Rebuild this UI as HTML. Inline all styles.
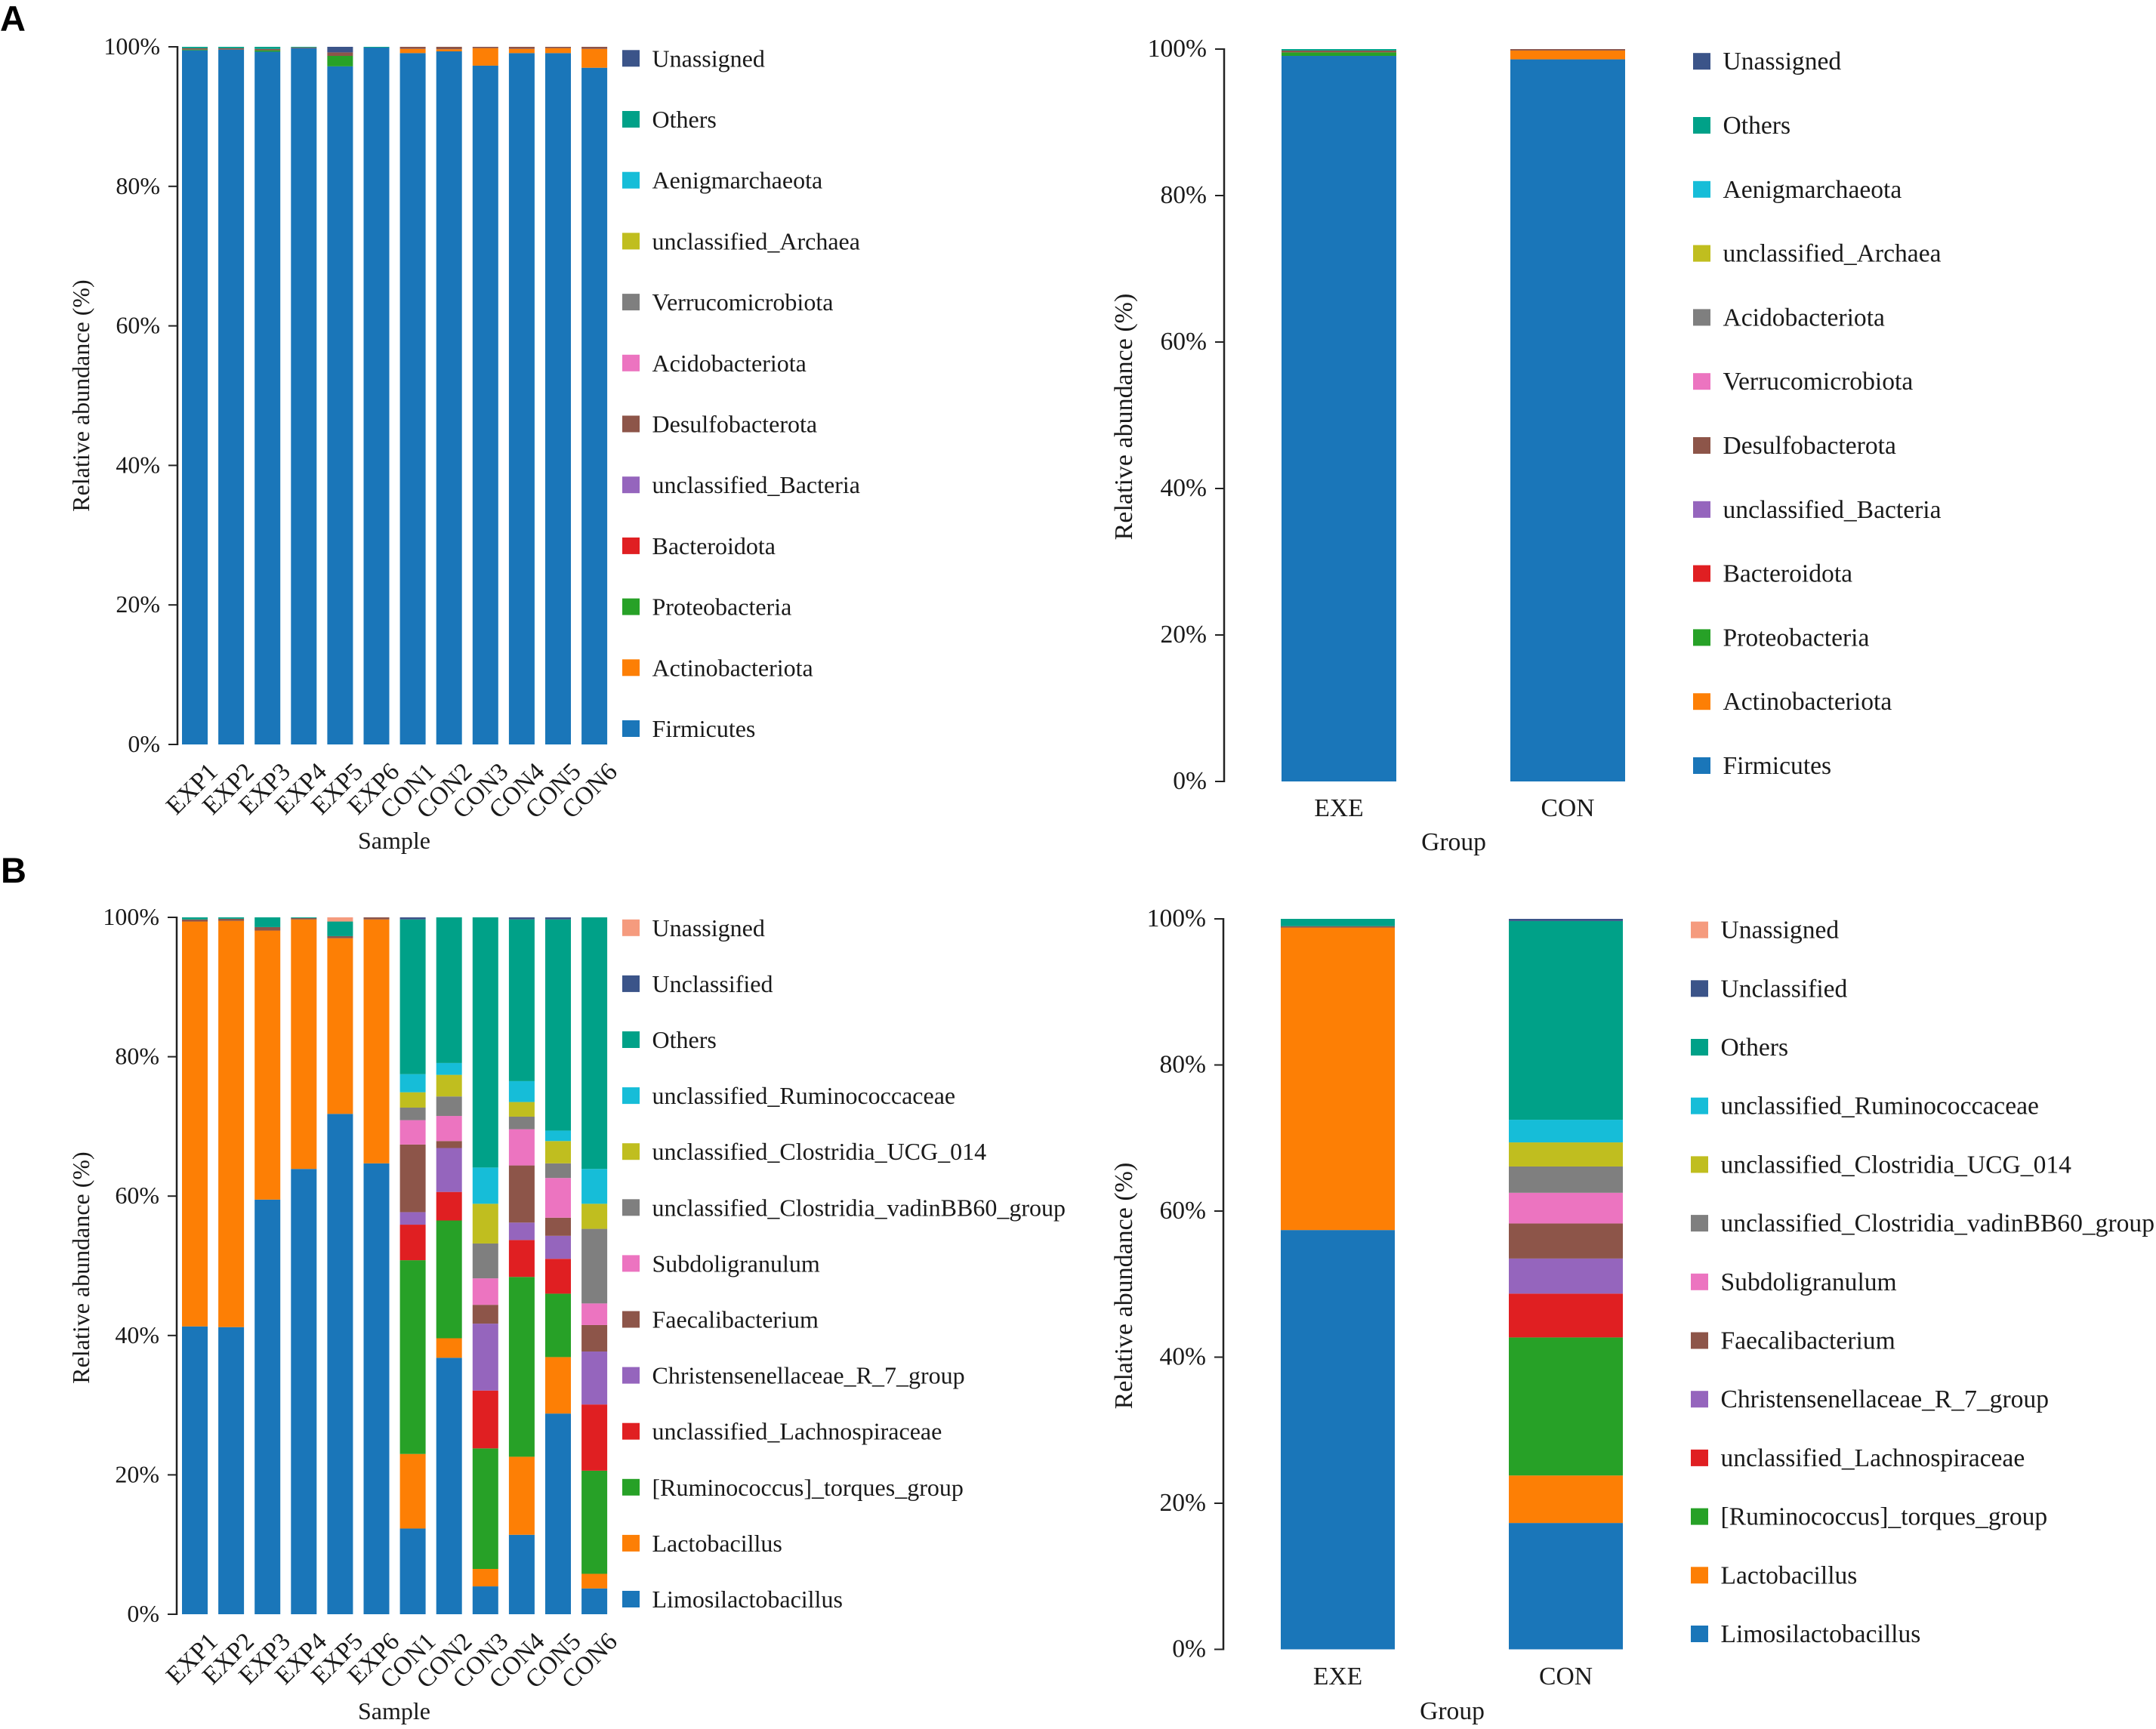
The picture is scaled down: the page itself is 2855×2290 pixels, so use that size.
<!DOCTYPE html>
<html lang="en">
<head>
<meta charset="utf-8">
<title>Relative abundance stacked bar charts</title>
<style>
html,body{margin:0;padding:0;background:#fff;}
svg{display:block;}
text{font-family:"Liberation Serif","Times New Roman",serif;fill:#1a1a1a;}
.panel-letter{font-family:"Liberation Sans",Arial,sans-serif;font-weight:700;font-size:47px;fill:#000;}
</style>
</head>
<body>
<svg id="figure" width="2855" height="2290" viewBox="0 0 2855 2290" xmlns="http://www.w3.org/2000/svg">
  <rect x="0" y="0" width="2855" height="2290" fill="#ffffff"/>
  <text class="panel-letter" x="0" y="41">A</text>
  <text class="panel-letter" x="1" y="1169">B</text>
  <g id="panel-a-sample"></g>
  <g id="panel-a-group"></g>
  <g id="panel-b-sample"></g>
  <g id="panel-b-group"></g>
</svg>
<script>
const sampleCategories = ['EXP1','EXP2','EXP3','EXP4','EXP5','EXP6','CON1','CON2','CON3','CON4','CON5','CON6'];
const groupCategories = ['EXE','CON'];
const yTickValues = [0,20,40,60,80,100];
const yTickLabels = ['0%','20%','40%','60%','80%','100%'];

const phylumSampleNames = ['Firmicutes','Actinobacteriota','Proteobacteria','Bacteroidota','unclassified_Bacteria','Desulfobacterota','Acidobacteriota','Verrucomicrobiota','unclassified_Archaea','Aenigmarchaeota','Others','Unassigned'];
const phylumGroupNames = ['Firmicutes','Actinobacteriota','Proteobacteria','Bacteroidota','unclassified_Bacteria','Desulfobacterota','Verrucomicrobiota','Acidobacteriota','unclassified_Archaea','Aenigmarchaeota','Others','Unassigned'];
const genusNames = ['Limosilactobacillus','Lactobacillus','[Ruminococcus]_torques_group','unclassified_Lachnospiraceae','Christensenellaceae_R_7_group','Faecalibacterium','Subdoligranulum','unclassified_Clostridia_vadinBB60_group','unclassified_Clostridia_UCG_014','unclassified_Ruminococcaceae','Others','Unclassified','Unassigned'];

const aSampleFirmicutes = [99.5,99.6,99.3,99.8,97.2,99.9,99.1,99.35,97.3,99.1,99.1,97.0];
const aSampleActinobacteriota = [0,0,0,0,0,0,0.6,0.3,2.5,0.6,0.7,2.7];
const aSampleProteobacteria = [0.1,0,0.2,0,1.5,0,0,0,0,0,0,0];
const aSampleBacteroidota = [0,0,0,0,0,0,0,0,0,0,0,0];
const aSampleUnclassifiedBacteria = [0,0,0,0,0,0,0,0,0,0,0,0];
const aSampleDesulfobacterota = [0.2,0.2,0.2,0.1,0.5,0,0.3,0.35,0.2,0.3,0.2,0.3];
const aSampleAcidobacteriota = [0,0,0,0,0,0,0,0,0,0,0,0];
const aSampleVerrucomicrobiota = [0,0,0,0,0,0,0,0,0,0,0,0];
const aSampleUnclassifiedArchaea = [0,0,0,0,0,0,0,0,0,0,0,0];
const aSampleAenigmarchaeota = [0,0,0,0,0,0,0,0,0,0,0,0];
const aSampleOthers = [0.2,0.2,0.3,0.1,0,0.1,0,0,0,0,0,0];
const aSampleUnassigned = [0,0,0,0,0.8,0,0,0,0,0,0,0];

const aGroupFirmicutes = [99.07,98.6];
const aGroupActinobacteriota = [0,1.2];
const aGroupProteobacteria = [0.48,0];
const aGroupBacteroidota = [0,0];
const aGroupUnclassifiedBacteria = [0,0];
const aGroupDesulfobacterota = [0.25,0.2];
const aGroupVerrucomicrobiota = [0,0];
const aGroupAcidobacteriota = [0,0];
const aGroupUnclassifiedArchaea = [0,0];
const aGroupAenigmarchaeota = [0,0];
const aGroupOthers = [0.2,0];
const aGroupUnassigned = [0,0];

const bSampleLimosilactobacillus = [41.3,41.2,59.5,63.9,71.8,64.7,12.3,36.8,4.0,11.4,28.8,3.7];
const bSampleLactobacillus = [58.1,58.3,38.6,35.8,25.2,35.0,10.7,2.8,2.5,11.2,8.1,2.1];
const bSampleRuminococcus = [0,0,0,0,0,0,27.8,16.9,17.3,25.8,9.1,14.8];
const bSampleLachnospiraceae = [0,0,0,0,0,0,5.1,4.1,8.3,5.3,5.0,9.5];
const bSampleChristensenellaceae = [0,0,0,0,0,0,1.8,6.3,9.6,2.5,3.3,7.6];
const bSampleFaecalibacterium = [0.3,0.3,0.5,0.2,0.3,0.3,9.7,1.0,2.7,8.2,2.6,3.8];
const bSampleSubdoligranulum = [0,0,0,0,0,0,3.5,3.6,3.8,5.2,5.7,3.1];
const bSampleVadinBB60 = [0,0,0,0,0,0,1.8,2.8,5.0,1.8,2.1,10.7];
const bSampleUCG014 = [0,0,0,0,0,0,2.2,3.1,5.7,2.1,3.2,3.6];
const bSampleRuminococcaceae = [0,0,0,0,0,0,2.6,1.7,5.2,3.0,1.5,5.0];
const bSampleOthers = [0.3,0.2,1.4,0.1,2.1,0,22.2,20.9,35.9,23.2,30.3,36.1];
const bSampleUnclassified = [0,0,0,0,0,0,0.3,0,0,0.3,0.3,0];
const bSampleUnassigned = [0,0,0,0,0.6,0,0,0,0,0,0,0];

const bGroupLimosilactobacillus = [57.4,17.3];
const bGroupLactobacillus = [41.4,6.5];
const bGroupRuminococcus = [0,18.9];
const bGroupLachnospiraceae = [0,6.0];
const bGroupChristensenellaceae = [0,4.8];
const bGroupFaecalibacterium = [0.2,4.8];
const bGroupSubdoligranulum = [0,4.2];
const bGroupVadinBB60 = [0,3.6];
const bGroupUCG014 = [0,3.3];
const bGroupRuminococcaceae = [0,3.1];
const bGroupOthers = [1.0,27.2];
const bGroupUnclassified = [0,0.3];
const bGroupUnassigned = [0,0];

const seriesColors = ['#1a76b9','#fd7f05','#27a127','#e01f22','#9565bd','#8d5549','#ec74c0','#7f7f7f','#c0be1f','#16bdd8','#00a188','#3b5489','#f59b7e'];
const phylumColors = ['#1a76b9','#fd7f05','#27a127','#e01f22','#9565bd','#8d5549','#ec74c0','#7f7f7f','#c0be1f','#16bdd8','#00a188','#3b5489'];

const SVG_NS = 'http://www.w3.org/2000/svg';

function drawChart(cfg) {
  const root = document.getElementById(cfg.id);
  const yScale = v => cfg.y0 + (cfg.y100 - cfg.y0) * v / 100;
  const xScale = i => cfg.barStart + i * cfg.barStep;

  const axis = document.createElementNS(SVG_NS, 'line');
  
  
  axis.setAttribute('x1', cfg.axisX);
  axis.setAttribute('x2', cfg.axisX);
  axis.setAttribute('y1', yScale(100) - 1);
  axis.setAttribute('y2', yScale(0) + 1);
  axis.setAttribute('stroke', '#222');
  axis.setAttribute('stroke-width', 2.5);
  root.appendChild(axis);

  yTickValues.forEach((v, i) => {
    const tick = document.createElementNS(SVG_NS, 'line');
    
    
    tick.setAttribute('x1', cfg.axisX - 12);
    tick.setAttribute('x2', cfg.axisX);
    tick.setAttribute('y1', yScale(v));
    tick.setAttribute('y2', yScale(v));
    tick.setAttribute('stroke', '#222');
    tick.setAttribute('stroke-width', 2);
    root.appendChild(tick);

    const label = document.createElementNS(SVG_NS, 'text');
    
    
    label.setAttribute('x', cfg.axisX - 23);
    label.setAttribute('y', yScale(v) + 10);
    label.setAttribute('text-anchor', 'end');
    label.setAttribute('font-size', cfg.fontSize);
    label.textContent = yTickLabels[i];
    root.appendChild(label);
  });

  cfg.categories.forEach((cat, c) => {
    let acc = 0;
    cfg.series.forEach((values, s) => {
      const val = values[c];
      if (val > 0) {
        const seg = document.createElementNS(SVG_NS, 'rect');
        
        
        seg.setAttribute('x', xScale(c));
        seg.setAttribute('y', yScale(acc + val));
        seg.setAttribute('width', cfg.barWidth);
        seg.setAttribute('height', yScale(acc) - yScale(acc + val));
        seg.setAttribute('fill', cfg.colors[s]);
        root.appendChild(seg);
      }
      acc += val;
    });

    const cx = xScale(c) + cfg.barWidth / 2;
    const catLabel = document.createElementNS(SVG_NS, 'text');
    
    
    if (cfg.rotated) {
      const lx = cx + 32;
      const ly = cfg.y0 + 38;
      catLabel.setAttribute('font-size', 33.5);
      catLabel.setAttribute('x', lx);
      catLabel.setAttribute('y', ly);
      catLabel.setAttribute('text-anchor', 'end');
      catLabel.setAttribute('transform', 'rotate(-45 ' + lx + ' ' + ly + ')');
    } else {
      catLabel.setAttribute('font-size', cfg.fontSize);
      catLabel.setAttribute('x', cx);
      catLabel.setAttribute('y', cfg.catY);
      catLabel.setAttribute('text-anchor', 'middle');
    }
    catLabel.textContent = cat;
    root.appendChild(catLabel);
  });

  const xTitle = document.createElementNS(SVG_NS, 'text');
  
  
  xTitle.setAttribute('x', cfg.xTitleX);
  xTitle.setAttribute('y', cfg.xTitleY);
  xTitle.setAttribute('text-anchor', 'middle');
  xTitle.setAttribute('font-size', cfg.fontSize);
  xTitle.textContent = cfg.xTitle;
  root.appendChild(xTitle);

  const yTitle = document.createElementNS(SVG_NS, 'text');
  
  
  yTitle.setAttribute('x', cfg.yTitleX);
  yTitle.setAttribute('y', cfg.yTitleY);
  yTitle.setAttribute('text-anchor', 'middle');
  yTitle.setAttribute('font-size', cfg.yTitleSize);
  yTitle.setAttribute('transform', 'rotate(-90 ' + cfg.yTitleX + ' ' + cfg.yTitleY + ')');
  yTitle.textContent = 'Relative abundance (%)';
  root.appendChild(yTitle);

  cfg.names.forEach((name, i) => {
    const cy = cfg.legendBottom - i * cfg.legendStep;
    const swatch = document.createElementNS(SVG_NS, 'rect');
    
    
    swatch.setAttribute('x', cfg.legendX);
    swatch.setAttribute('y', cy - 11);
    swatch.setAttribute('width', 23);
    swatch.setAttribute('height', 22);
    swatch.setAttribute('fill', cfg.colors[i]);
    root.appendChild(swatch);

    const entry = document.createElementNS(SVG_NS, 'text');
    
    
    entry.setAttribute('x', cfg.legendX + 39.5);
    entry.setAttribute('y', cy + 11);
    entry.setAttribute('font-size', cfg.fontSize);
    entry.textContent = name;
    root.appendChild(entry);
  });
}

drawChart({
  id: 'panel-a-sample', categories: sampleCategories, names: phylumSampleNames, colors: phylumColors,
  series: [aSampleFirmicutes, aSampleActinobacteriota, aSampleProteobacteria, aSampleBacteroidota, aSampleUnclassifiedBacteria, aSampleDesulfobacterota, aSampleAcidobacteriota, aSampleVerrucomicrobiota, aSampleUnclassifiedArchaea, aSampleAenigmarchaeota, aSampleOthers, aSampleUnassigned],
  y0: 986, y100: 62, axisX: 235, barStart: 241, barStep: 48.1, barWidth: 34, rotated: true, fontSize: 32, yTitleSize: 32,
  xTitle: 'Sample', xTitleX: 522, xTitleY: 1124, yTitleX: 118, yTitleY: 524,
  legendX: 824, legendBottom: 965, legendStep: 80.7
});
drawChart({
  id: 'panel-a-group', categories: groupCategories, names: phylumGroupNames, colors: phylumColors,
  series: [aGroupFirmicutes, aGroupActinobacteriota, aGroupProteobacteria, aGroupBacteroidota, aGroupUnclassifiedBacteria, aGroupDesulfobacterota, aGroupVerrucomicrobiota, aGroupAcidobacteriota, aGroupUnclassifiedArchaea, aGroupAenigmarchaeota, aGroupOthers, aGroupUnassigned],
  y0: 1035, y100: 65, axisX: 1621, barStart: 1697, barStep: 303, barWidth: 152, rotated: false, catY: 1081, fontSize: 33.6, yTitleSize: 34,
  xTitle: 'Group', xTitleX: 1925, xTitleY: 1126, yTitleX: 1499, yTitleY: 552,
  legendX: 2242, legendBottom: 1014, legendStep: 84.8
});
drawChart({
  id: 'panel-b-sample', categories: sampleCategories, names: genusNames, colors: seriesColors,
  series: [bSampleLimosilactobacillus, bSampleLactobacillus, bSampleRuminococcus, bSampleLachnospiraceae, bSampleChristensenellaceae, bSampleFaecalibacterium, bSampleSubdoligranulum, bSampleVadinBB60, bSampleUCG014, bSampleRuminococcaceae, bSampleOthers, bSampleUnclassified, bSampleUnassigned],
  y0: 2138, y100: 1215, axisX: 234, barStart: 241, barStep: 48.1, barWidth: 34, rotated: true, fontSize: 32, yTitleSize: 32,
  xTitle: 'Sample', xTitleX: 522, xTitleY: 2277, yTitleX: 118, yTitleY: 1679,
  legendX: 824, legendBottom: 2118, legendStep: 74.1
});
drawChart({
  id: 'panel-b-group', categories: groupCategories, names: genusNames, colors: seriesColors,
  series: [bGroupLimosilactobacillus, bGroupLactobacillus, bGroupRuminococcus, bGroupLachnospiraceae, bGroupChristensenellaceae, bGroupFaecalibacterium, bGroupSubdoligranulum, bGroupVadinBB60, bGroupUCG014, bGroupRuminococcaceae, bGroupOthers, bGroupUnclassified, bGroupUnassigned],
  y0: 2184.5, y100: 1217, axisX: 1620, barStart: 1696, barStep: 302, barWidth: 151, rotated: false, catY: 2231, fontSize: 33.6, yTitleSize: 34,
  xTitle: 'Group', xTitleX: 1923, xTitleY: 2277, yTitleX: 1499, yTitleY: 1703,
  legendX: 2239, legendBottom: 2164, legendStep: 77.7
});
</script>
</body>
</html>
